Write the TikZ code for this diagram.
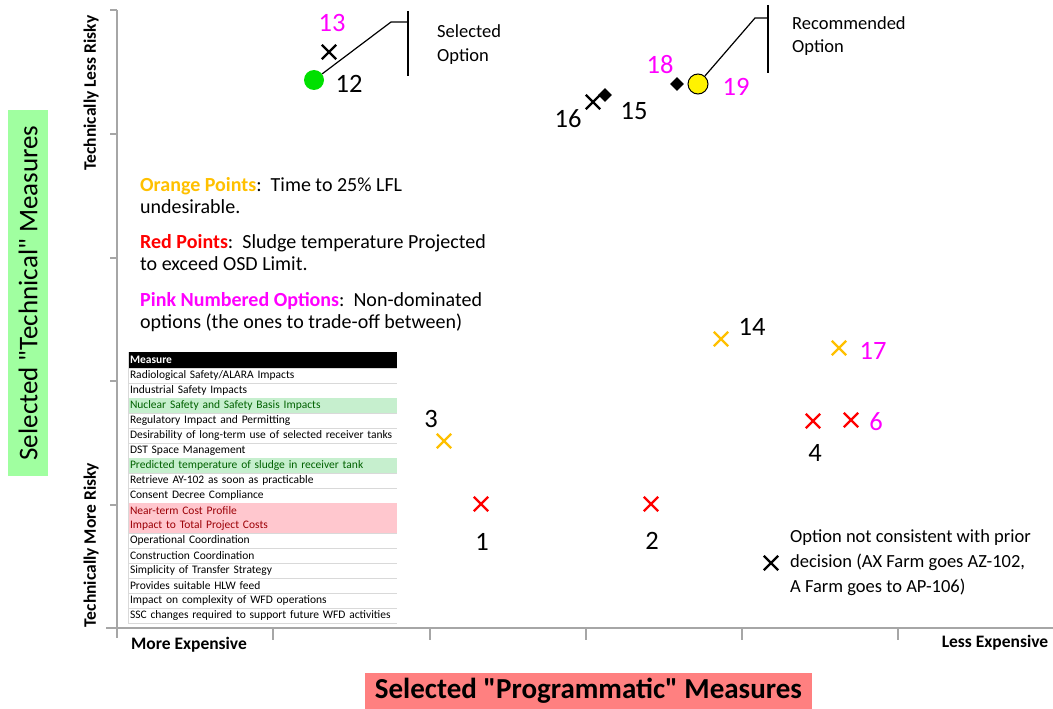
\documentclass[tikz,border=0pt]{standalone}
\usepackage{fontspec}
\setmainfont{Carlito}
\usepackage{tikz}
\usetikzlibrary{shapes.misc,shapes.geometric,positioning}

\definecolor{ptorange}{HTML}{FFC000}
\definecolor{ptred}{HTML}{FF0000}
\definecolor{ptpink}{HTML}{FF00FF}
\definecolor{ptgreen}{HTML}{00E000}
\definecolor{axisgray}{HTML}{A6A6A6}
\definecolor{rowline}{HTML}{D9D9D9}
\definecolor{goodfill}{HTML}{C6EFCE}
\definecolor{goodtext}{HTML}{006100}
\definecolor{badfill}{HTML}{FFC7CE}
\definecolor{badtext}{HTML}{9C0006}
\definecolor{techgreen}{HTML}{A0FFA0}
\definecolor{progred}{HTML}{FF8080}

\begin{document}
\begin{tikzpicture}[x=1pt, y=-1pt,
    node distance=0pt,
    axis/.style={draw=axisgray, line width=1.2pt},
    xmark/.style={cross out, draw, line width=2.4pt, minimum size=12pt, inner sep=0pt},
    dmark/.style={diamond, fill=black, minimum size=14pt, inner sep=0pt},
    num/.style={font=\fontsize{26.5}{28}\selectfont, inner sep=0pt},
    note/.style={font=\fontsize{20}{21.5}\selectfont, align=left, anchor=base west, inner sep=0pt},
    axislbl/.style={font=\bfseries\fontsize{17.5}{19}\selectfont, inner sep=0pt},
    callout/.style={black, line width=1.2pt},
    measure/.style={text width=265pt, inner xsep=2pt, inner ysep=0pt, outer sep=0pt, minimum height=15pt,
        align=left, font=\fontsize{11.5}{12}\selectfont,
        path picture={\draw[rowline] (path picture bounding box.south west) -- (path picture bounding box.south east);}},
    goodrow/.style={measure, fill=goodfill, text=goodtext},
    badrow/.style={measure, fill=badfill, text=badtext}
]
\useasboundingbox (0,0) rectangle (1053,709);

% Axes
\draw[axis] (117,10) -- (117,638);
\draw[axis] (106,628) -- (1053,628);
\draw[axis] (110,10) -- (117,10) (110,134) -- (117,134) (110,258) -- (117,258) (110,381) -- (117,381) (110,505) -- (117,505);
\draw[axis] (273,628) -- (273,640) (430,628) -- (430,640) (586,628) -- (586,640) (742,628) -- (742,640) (898,628) -- (898,640);

% Axis labels
\node[axislbl, rotate=90] (lessrisky) at (91,93) {Technically Less Risky};
\node[axislbl, rotate=90] (morerisky) at (91,545) {Technically More Risky};
\node[axislbl] (moreexp) at (189,645) {More Expensive};
\node[axislbl] (lessexp) at (995,643) {Less Expensive};
\node[fill=techgreen, rotate=90, minimum width=366pt, minimum height=40pt, inner sep=0pt,
    font=\fontsize{27}{30}\selectfont] (techtitle) at (28,293) {Selected \textquotedbl Technical\textquotedbl{} Measures};
\node[fill=progred, minimum width=447pt, minimum height=36pt, inner sep=0pt,
    font=\bfseries\fontsize{29}{31}\selectfont] (progtitle) at (588.5,691) {Selected \textquotedbl Programmatic\textquotedbl{} Measures};

% Legend (anchored at the last line)
\node[note] (orangenote) at (140,213) {\textcolor{ptorange}{\textbf{Orange Points}}:\ \ Time to 25\% LFL\\undesirable.};
\node[note] (rednote) at (140,270) {\textcolor{ptred}{\textbf{Red Points}}:\ \ Sludge temperature Projected\\to exceed OSD Limit.};
\node[note] (pinknote) at (140,328) {\textcolor{ptpink}{\textbf{Pink Numbered Options}}:\ \ Non-dominated\\options (the ones to trade-off between)};

% Measures table
\node[measure, fill=black, text=white, font=\bfseries\fontsize{11.5}{12}\selectfont, minimum height=16pt, anchor=north] (head) at (262.5,352) {Measure};
\node[measure, below=of head] (r1) {Radiological Safety/ALARA Impacts};
\node[measure, below=of r1] (r2) {Industrial Safety Impacts};
\node[goodrow, below=of r2] (r3) {Nuclear Safety and Safety Basis Impacts};
\node[measure, below=of r3] (r4) {Regulatory Impact and Permitting};
\node[measure, below=of r4] (r5) {Desirability of long-term use of selected receiver tanks};
\node[measure, below=of r5] (r6) {DST Space Management};
\node[goodrow, below=of r6] (r7) {Predicted temperature of sludge in receiver tank};
\node[measure, below=of r7] (r8) {Retrieve AY-102 as soon as practicable};
\node[measure, below=of r8] (r9) {Consent Decree Compliance};
\node[badrow, below=of r9] (r10) {Near-term Cost Profile};
\node[badrow, below=of r10] (r11) {Impact to Total Project Costs};
\node[measure, below=of r11] (r12) {Operational Coordination};
\node[measure, below=of r12] (r13) {Construction Coordination};
\node[measure, below=of r13] (r14) {Simplicity of Transfer Strategy};
\node[measure, below=of r14] (r15) {Provides suitable HLW feed};
\node[measure, below=of r15] (r16) {Impact on complexity of WFD operations};
\node[measure, below=of r16] (r17) {SSC changes required to support future WFD activities};
\draw[rowline, line width=1pt] (head.north west) -- (r17.south west);

% Options
\node[xmark] (o13) at (329,52) {};
\node[num, text=ptpink] (l13) at (332,23) {13};
\node[circle, fill=ptgreen, minimum size=20pt, inner sep=0pt] (o12) at (314,80) {};
\node[num] (l12) at (349,84) {12};
\node[xmark] (o16) at (593,102) {};
\node[num] (l16) at (568,119) {16};
\node[dmark] (o15) at (605,95) {};
\node[num] (l15) at (634,111) {15};
\node[dmark] (o18) at (677,84) {};
\node[num, text=ptpink] (l18) at (660,65) {18};
\node[circle, draw, fill=yellow, line width=1pt, minimum size=20pt, inner sep=0pt] (o19) at (698,84) {};
\node[num, text=ptpink] (l19) at (736,87) {19};
\node[xmark, draw=ptorange] (o14) at (721,339) {};
\node[num] (l14) at (752,327) {14};
\node[xmark, draw=ptorange] (o17) at (839,348) {};
\node[num, text=ptpink] (l17) at (873,351) {17};
\node[xmark, draw=ptred] (o4) at (813,421) {};
\node[num] (l4) at (815,453) {4};
\node[xmark, draw=ptred] (o6) at (851,420) {};
\node[num, text=ptpink] (l6) at (876,422) {6};
\node[xmark, draw=ptorange] (o3) at (444,441) {};
\node[num] (l3) at (431,419) {3};
\node[xmark, draw=ptred] (o1) at (481,504) {};
\node[num] (l1) at (482,542) {1};
\node[xmark, draw=ptred] (o2) at (651,504) {};
\node[num] (l2) at (652,541) {2};

% Callouts
\coordinate (selknee) at (391,22);
\coordinate (selbar) at (408,22);
\coordinate (seltop) at (408,11);
\coordinate (selbot) at (408,76);
\draw[callout] (o12) -- (selknee) -- (selbar);
\draw[callout] (seltop) -- (selbot);
\node[note, font=\fontsize{18.5}{24}\selectfont] (seltext) at (437,62) {Selected\\Option};

\coordinate (recknee) at (755,18);
\coordinate (recbar) at (768,18);
\coordinate (rectop) at (768,5);
\coordinate (recbot) at (768,73);
\draw[callout] (o19) -- (recknee) -- (recbar);
\draw[callout] (rectop) -- (recbot);
\node[note, font=\fontsize{18.5}{23}\selectfont] (rectext) at (792,53) {Recommended\\Option};

% Prior decision note
\node[xmark] (priormark) at (771,563) {};
\node[note, font=\fontsize{18.5}{25}\selectfont] (priornote) at (790,592) {Option not consistent with prior\\decision (AX Farm goes AZ-102,\\A Farm goes to AP-106)};

\end{tikzpicture}
\end{document}
